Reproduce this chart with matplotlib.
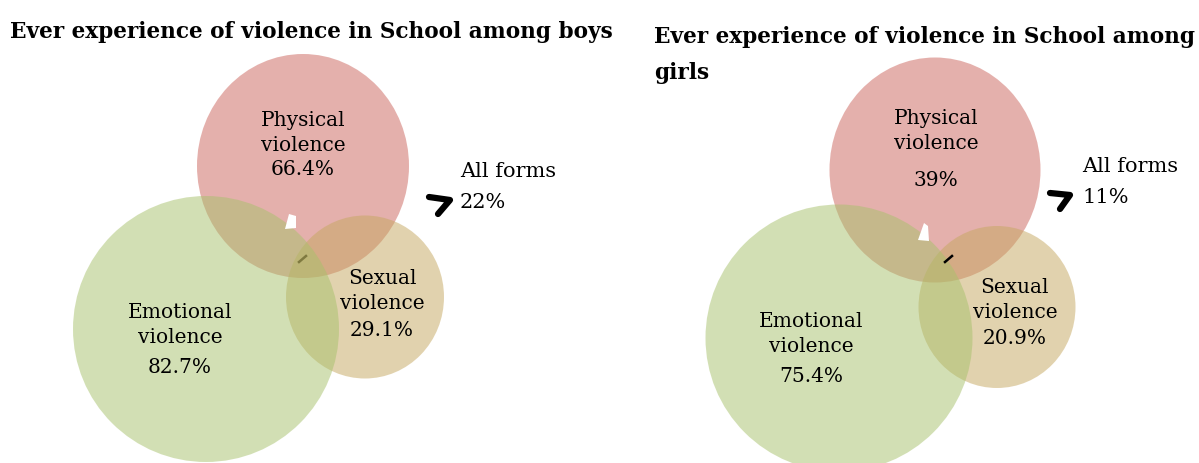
import matplotlib
matplotlib.use("Agg")
import matplotlib.pyplot as plt
from matplotlib.patches import Ellipse, Polygon

# data
titles = ["Ever experience of violence in School among boys",
          "Ever experience of violence in School among\ngirls"]
categories = ["Physical\nviolence", "Sexual\nviolence", "Emotional\nviolence"]
boys_pct = [66.4, 29.1, 82.7]
girls_pct = [39, 20.9, 75.4]
all_forms = [22, 11]

# layout in pixel coordinates
# circles: (x, y, width, height); labels: (x, y of category block, y of percent)
layouts = [
    {
        "title": (10, 32),
        "circles": [(303, 167, 212, 224), (365, 298, 158, 163), (206, 330, 266, 266)],
        "labels": [(303, 133, 170), (382, 291, 331), (180, 325, 368)],
        "allforms": (460, 172, 203),
        "arrow": [(429, 198), (450, 201), (438, 215)],
        "white": [(289, 215), (296, 217), (296, 229), (285, 230)],
        "dash": [(299, 263), (306, 257)],
        "dash_color": "#7f7a40",
    },
    {
        "title": (654, 55),
        "circles": [(935, 171, 211, 225), (997, 308, 157, 162), (839, 339, 267, 267)],
        "labels": [(936, 131, 181), (1015, 300, 339), (811, 334, 377)],
        "allforms": (1082, 167, 198),
        "arrow": [(1050, 194), (1070, 196), (1060, 210)],
        "white": [(924, 224), (928, 227), (929, 242), (918, 241)],
        "dash": [(945, 263), (952, 257)],
        "dash_color": "black",
    },
]
colors = ["#cb635b", "#c5a75f", "#a7c16b"]
draw_order = [0, 1, 2]  # pink, tan, green on top

fig = plt.figure(figsize=(11.99, 4.64), dpi=100)
ax = fig.add_axes([0, 0, 1, 1])
ax.set_xlim(0, 1199)
ax.set_ylim(464, 0)
ax.axis("off")

serif = ["DejaVu Serif"]

for lay, title, pct, af in zip(layouts, titles, [boys_pct, girls_pct], all_forms):
    for i in draw_order:
        x, y, w, h = lay["circles"][i]
        ax.add_patch(Ellipse((x, y), w, h, facecolor=colors[i], alpha=0.5,
                             edgecolor="none", zorder=1 + i))
    ax.add_patch(Polygon(lay["white"], closed=True, facecolor="white",
                         edgecolor="none", zorder=5))
    dx, dy = zip(*lay["dash"])
    ax.plot(dx, dy, color=lay["dash_color"], lw=1.8, zorder=5)

    for i, (cat, p) in enumerate(zip(categories, pct)):
        lx, ly, py = lay["labels"][i]
        ax.text(lx, ly, cat, ha="center", va="center", fontsize=14.5,
                family=serif, linespacing=1.45, zorder=6)
        ax.text(lx, py, f"{p:g}%", ha="center", va="center", fontsize=14.5,
                family=serif, zorder=6)

    tx, ty = lay["title"]
    ax.text(tx, ty, title, ha="left", va="center", fontsize=15.6,
            fontweight="bold", family=serif, linespacing=1.8, zorder=6)

    ax_, ay1, ay2 = lay["allforms"]
    ax.text(ax_, ay1, "All forms", ha="left", va="center", fontsize=15,
            family=serif, zorder=6)
    ax.text(ax_, ay2, f"{af}%", ha="left", va="center", fontsize=15,
            family=serif, zorder=6)
    arx, ary = zip(*lay["arrow"])
    ax.plot(arx, ary, color="black", lw=4.5, solid_capstyle="round",
            solid_joinstyle="round", zorder=6)

fig.savefig("out.png", dpi=100)
